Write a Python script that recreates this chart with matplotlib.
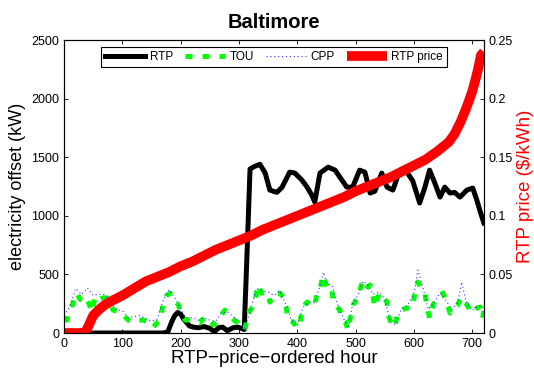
import matplotlib
matplotlib.use("Agg")
from matplotlib import pyplot as plt
import matplotlib as mpl
import numpy as np

mpl.rc('font', family=['Liberation Sans', 'DejaVu Sans'], size=9)
mpl.rc('axes', linewidth=0.8)
mpl.rc('xtick', direction='in')
mpl.rc('ytick', direction='in')

# hours sorted by real-time price, with the offset (kW) of each program
rtp_hours = [0, 170, 178, 185, 190, 195, 200, 205, 210, 215, 222, 230, 240, 250,
             258, 265, 272, 280, 290, 298, 304, 309, 314, 319, 326, 336, 345, 353,
             365, 374, 387, 396, 408, 417, 425, 430, 439, 453, 465, 473, 485, 495,
             507, 516, 525, 533, 545, 554, 564, 576, 588, 598, 610, 619, 627, 636,
             645, 653, 662, 670, 679, 691, 701, 708, 713, 720]
rtp_kw = [0, 0, 10, 100, 150, 175, 160, 120, 90, 60, 50, 45, 55, 40,
          10, 45, 50, 20, 45, 50, 40, 30, 700, 1400, 1420, 1440, 1365, 1220,
          1200, 1245, 1373, 1365, 1305, 1245, 1177, 1118, 1365, 1416, 1390, 1331, 1245, 1245,
          1390, 1373, 1195, 1210, 1365, 1245, 1220, 1390, 1373, 1300, 1110, 1245, 1390, 1280,
          1160, 1245, 1195, 1200, 1160, 1220, 1237, 1135, 1050, 940]

tou_hours = [0, 5, 8, 15, 22, 27, 33, 38, 45, 48, 53, 58, 66, 74, 79, 84, 93, 99,
             104, 110, 116, 125, 135, 142, 147, 153, 160, 165, 170, 176, 182, 188,
             196, 200, 208, 215, 222, 233, 236, 245, 250, 256, 262, 267, 276, 282,
             288, 294, 299, 305, 310, 316, 322, 327, 333, 336, 339, 345, 350, 353,
             358, 362, 370, 376, 381, 384, 389, 393, 399, 405, 408, 413, 417, 425,
             430, 435, 440, 444, 449, 453, 459, 461, 468, 473, 478, 483, 487, 491,
             496, 504, 511, 516, 520, 525, 530, 533, 538, 542, 548, 554, 556, 562,
             567, 573, 580, 588, 597, 602, 607, 614, 619, 622, 627, 633, 640, 645,
             650, 657, 662, 667, 675, 682, 691, 700, 708, 714, 718, 720]
tou_kw = [120, 110, 170, 250, 340, 290, 280, 307, 222, 180, 307, 280, 300, 300, 250, 196, 180, 170,
          140, 110, 94, 110, 110, 100, 85, 50, 90, 110, 256, 320, 340, 290,
          240, 180, 110, 110, 100, 85, 110, 137, 100, 68, 100, 137, 196, 160,
          128, 100, 85, 50, 26, 170, 213, 264, 410, 370, 341, 350, 341, 264,
          300, 341, 341, 307, 222, 110, 100, 94, 43, 85, 196, 240, 264, 222,
          240, 367, 392, 495, 420, 384, 392, 280, 222, 196, 110, 90, 26, 128,
          240, 307, 427, 367, 390, 410, 307, 222, 300, 341, 300, 264, 153, 68,
          51, 180, 200, 213, 213, 341, 435, 367, 341, 240, 128, 240, 300, 324,
          341, 256, 170, 213, 240, 307, 240, 170, 213, 222, 128, 200]

cpp_hours = [0, 10, 20, 30, 40, 50, 60, 70, 80, 90, 100, 110, 120, 130, 140, 150,
             160, 170, 180, 190, 200, 210, 220, 230, 240, 250, 260, 270, 280, 290,
             300, 310, 320, 330, 340, 350, 360, 370, 380, 390, 400, 410, 420, 430,
             440, 445, 450, 460, 470, 480, 488, 495, 505, 512, 520, 530, 540, 550,
             560, 568, 578, 590, 600, 607, 615, 625, 635, 645, 655, 665, 675, 682,
             690, 700, 710, 720]
cpp_kw = [150, 230, 380, 330, 384, 320, 330, 330, 260, 200, 190, 130, 140, 150, 120, 100,
          120, 280, 370, 300, 200, 130, 130, 110, 130, 110, 100, 170, 180, 140,
          100, 40, 200, 380, 360, 350, 320, 360, 250, 110, 60, 220, 260, 260,
          420, 520, 430, 400, 230, 120, 40, 250, 330, 440, 420, 330, 350, 290,
          90, 70, 200, 240, 330, 537, 400, 200, 260, 340, 280, 200, 260, 435,
          260, 190, 230, 220]

price_hours = [0, 20, 35, 40, 50, 60, 70, 80, 100, 120, 140, 160, 180, 200, 220, 240,
               260, 280, 300, 320, 340, 360, 380, 400, 420, 440, 460, 480, 500, 520,
               540, 560, 580, 600, 620, 640, 660, 670, 680, 690, 700, 705, 710, 715, 720]
price = [0.0, 0.0, 0.0, 0.004, 0.015, 0.020, 0.024, 0.027, 0.032, 0.038, 0.044, 0.048,
         0.052, 0.057, 0.061, 0.066, 0.071, 0.075, 0.079, 0.083, 0.088, 0.092, 0.096,
         0.100, 0.104, 0.108, 0.112, 0.116, 0.121, 0.125, 0.129, 0.133, 0.138, 0.143,
         0.148, 0.155, 0.163, 0.170, 0.180, 0.192, 0.206, 0.215, 0.225, 0.237, 0.24]

fig = plt.figure(figsize=(5.34, 3.75), dpi=100)
ax = fig.add_axes([0.12, 0.112, 0.786, 0.781])

l1, = ax.plot(rtp_hours, rtp_kw, color='black', lw=3.6, label='RTP',
              solid_joinstyle='round')
l2, = ax.plot(tou_hours, tou_kw, color='#00ff00', lw=3.6, label='TOU',
              linestyle=(0, (1.4, 2.0)))
l3, = ax.plot(cpp_hours, cpp_kw, color='#3333ff', lw=0.8, label='CPP',
              linestyle=(0, (1, 2.5)))

ax.set_xlim(0, 720)
ax.set_ylim(0, 2500)
ax.set_xticks(np.arange(0, 800, 100))
ax.set_yticks(np.arange(0, 2600, 500))
ax.tick_params(top=True, length=3, width=0.6)
ax.set_xlabel('RTP\u2212price\u2212ordered hour', fontsize=13.5, labelpad=0)
ax.set_ylabel('electricity offset (kW)', fontsize=13, labelpad=4)
ax.set_title('Baltimore', fontsize=14.5, fontweight='bold', pad=9)

ax2 = ax.twinx()
l4, = ax2.plot(price_hours, price, color='red', lw=7, label='RTP price',
               solid_capstyle='butt')
ax2.set_ylim(0, 0.25)
ax2.set_yticks([0, 0.05, 0.1, 0.15, 0.2, 0.25])
ax2.set_yticklabels(['0', '0.05', '0.1', '0.15', '0.2', '0.25'])
ax2.tick_params(length=3, width=0.6, direction='in')
ax2.set_ylabel('RTP price ($/kWh)', color='red', fontsize=13.5, labelpad=3)

leg = ax2.legend(handles=[l1, l2, l3, l4], loc='upper center', ncol=4,
                 bbox_to_anchor=(0.5, 0.995), frameon=True, fancybox=False,
                 edgecolor='black', framealpha=1, handlelength=3.4,
                 handletextpad=0.4, columnspacing=1.0, borderpad=0.3,
                 fontsize=8.5)
leg.get_frame().set_linewidth(0.8)

fig.savefig('out.png', dpi=100)
